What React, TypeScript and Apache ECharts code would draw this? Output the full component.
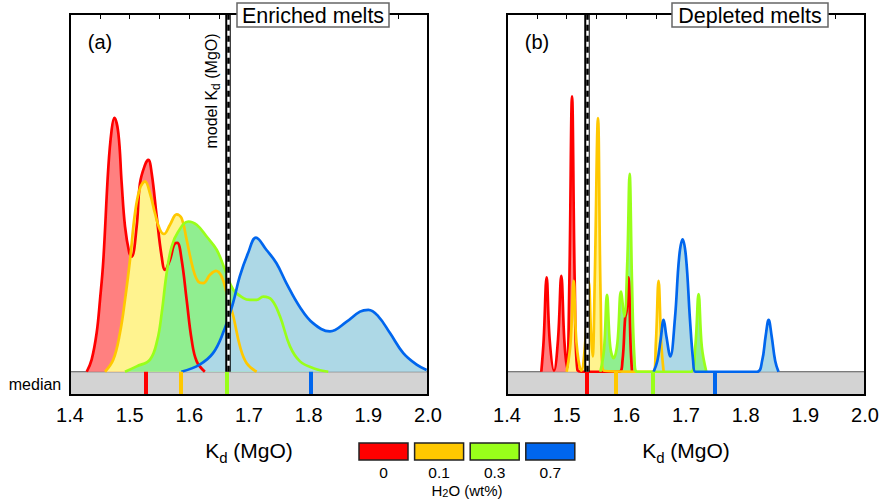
import React, { useEffect, useRef } from 'react';
import * as echarts from 'echarts';

const FONT = '"Liberation Sans", Arial, Helvetica, sans-serif';

// axis ranges
const X_MIN = 1.4;
const X_MAX = 2.0;
const X_STEP = 0.1;
const STRIP_BOTTOM = -6.5; // density units, the grey "median" strip lies below 0
const Y_MAX = 100;

// legend / categories
const waterContents = ['0', '0.1', '0.3', '0.7'];
const lineColors = ['#ff0000', '#ffc800', '#99ff1a', '#0066ee'];
const fillColors = ['#ff8080', '#fff38f', '#90ee90', '#add8e6'];

// Panel (a) enriched melts: density curves [Kd, density]
const enrichedRed: number[][] = [
  [1.428, 0], [1.4363, 3.4], [1.4447, 10.9], [1.4503, 20.1], [1.4558, 31], [1.4642, 57],
  [1.4698, 67.6], [1.4743, 71], [1.481, 66.7], [1.4866, 52.7], [1.4922, 40.6], [1.4994, 33.2],
  [1.5034, 32.2], [1.5117, 40.6], [1.5173, 52.7], [1.5257, 57.8], [1.5313, 59.2], [1.5369, 55.5],
  [1.5453, 43.4], [1.5536, 32.2], [1.5592, 28.5], [1.5676, 31.3], [1.576, 35.9], [1.5799, 36],
  [1.5871, 31.3], [1.5955, 20.1], [1.6039, 8.9], [1.6123, 2.9], [1.626, 0],
];
const enrichedOrange: number[][] = [
  [1.4587, 0], [1.4726, 3.4], [1.4838, 10.9], [1.4922, 20.1], [1.5006, 31.3], [1.5089, 44.3],
  [1.5173, 51.3], [1.5257, 53.2], [1.534, 49.9], [1.5424, 44.3], [1.5508, 39.7], [1.5575, 38.5],
  [1.5676, 41.1], [1.5788, 44], [1.5871, 42.9], [1.5955, 36.9], [1.6067, 28.5], [1.615, 25.2],
  [1.6234, 24.8], [1.6346, 27.1], [1.6447, 28.2], [1.6542, 26.6], [1.6626, 22], [1.6737, 15.5],
  [1.6849, 7.1], [1.6961, 2.4], [1.7128, 0],
];
const enrichedGreen: number[][] = [
  [1.4922, 0], [1.5117, 1.5], [1.5341, 3.4], [1.5464, 8.9], [1.5537, 16.4], [1.562, 27.6],
  [1.5704, 35], [1.5815, 39.2], [1.5983, 42], [1.6123, 41.1], [1.629, 37.8], [1.6458, 34.1],
  [1.6598, 28.5], [1.6737, 22.9], [1.6905, 20.6], [1.7017, 20.1], [1.7128, 20.1], [1.724, 21],
  [1.738, 20.1], [1.7519, 15.5], [1.7687, 7.1], [1.7855, 2.9], [1.8078, 1], [1.8329, 0],
];
const enrichedBlue: number[][] = [
  [1.5866, 0], [1.6173, 2], [1.6397, 5.2], [1.6564, 10.8], [1.6732, 19.2], [1.6844, 26.6],
  [1.6983, 33.1], [1.7117, 37.5], [1.729, 34.1], [1.7458, 30.4], [1.7626, 24.8], [1.7849, 18.2],
  [1.8073, 13.6], [1.8357, 11.3], [1.8637, 14], [1.886, 16.8], [1.9, 17.3], [1.9167, 15.5],
  [1.9363, 10.8], [1.9586, 5.2], [1.981, 2], [1.9977, 0.5],
];

// Panel (b) depleted melts
const depletedRed: number[][] = [
  [1.4575, 0], [1.4615, 9], [1.4664, 26.4], [1.4715, 9], [1.4788, 0.3], [1.4855, 9], [1.491, 26.8],
  [1.496, 9], [1.5005, 1], [1.5045, 25], [1.509, 77], [1.5135, 25], [1.518, 0.5], [1.53, 0],
  [1.588, 0], [1.5935, 3], [1.598, 15], [1.6005, 17], [1.6038, 26.4], [1.607, 8], [1.6095, 0],
];
const depletedOrange: number[][] = [
  [1.5, 0], [1.5065, 8], [1.5117, 25.4], [1.5165, 8], [1.5245, 0.3], [1.531, 8], [1.537, 25.2],
  [1.541, 10], [1.5435, 4.3], [1.547, 25], [1.5525, 70.9], [1.557, 20], [1.562, 0.3], [1.645, 0],
  [1.6495, 8], [1.654, 25.4], [1.6585, 8], [1.6625, 0],
];
const depletedGreen: number[][] = [
  [1.5564, 0], [1.5625, 6], [1.5676, 21.5], [1.573, 7], [1.5787, 3.8], [1.585, 8], [1.591, 22.4],
  [1.5966, 15.5], [1.6015, 30], [1.6055, 55.3], [1.6095, 25], [1.6135, 4], [1.618, 0], [1.708, 0],
  [1.7155, 7], [1.7211, 21.7], [1.7265, 7], [1.734, 0],
];
const depletedBlue: number[][] = [
  [1.6457, 0], [1.652, 3], [1.6575, 9], [1.6625, 14.5], [1.667, 10], [1.6737, 4.3], [1.6815, 15],
  [1.6885, 32], [1.6943, 37], [1.7, 32], [1.7065, 15], [1.712, 3], [1.7157, 0], [1.819, 0],
  [1.8275, 3], [1.8335, 10], [1.8385, 14.5], [1.8435, 10], [1.8495, 3], [1.855, 0],
];

const enrichedMedians = [1.527, 1.586, 1.663, 1.804];
const depletedMedians = [1.534, 1.583, 1.645, 1.749];
const modelKd = [1.665, 1.534];

const panelTitles = ['Enriched melts', 'Depleted melts'];
const panelLetters = ['(a)', '(b)'];

// layout
const GRID_TOP = 14;
const GRID_H = 381;
const GRID_W = 358;
const GRID_LEFTS = [70, 507];

function buildOption() {
  const panels = [
    { curves: [enrichedRed, enrichedOrange, enrichedGreen, enrichedBlue], medians: enrichedMedians, model: modelKd[0] },
    { curves: [depletedRed, depletedOrange, depletedGreen, depletedBlue], medians: depletedMedians, model: modelKd[1] },
  ];

  const grid = GRID_LEFTS.map((left) => ({
    left, top: GRID_TOP, width: GRID_W, height: GRID_H, show: false, containLabel: false,
  }));

  const xAxis: any[] = [];
  const yAxis: any[] = [];
  GRID_LEFTS.forEach((_, g) => {
    const common = {
      type: 'value', gridIndex: g, min: X_MIN, max: X_MAX, interval: X_STEP,
      axisLine: { show: false, onZero: false },
      axisTick: { show: true, inside: true, length: 5, lineStyle: { color: '#000', width: 1 } },
      minorTick: { show: true, splitNumber: 2, length: 5, lineStyle: { color: '#000', width: 1 } },
      splitLine: { show: false },
      minorSplitLine: { show: false },
    };
    xAxis.push({
      ...common, position: 'bottom',
      axisLabel: {
        show: true, fontSize: 20, color: '#000', fontFamily: FONT, margin: 10,
        formatter: (v: number) => v.toFixed(1),
      },
    });
    xAxis.push({ ...common, position: 'top', axisLabel: { show: false } });
    yAxis.push({ type: 'value', gridIndex: g, min: STRIP_BOTTOM, max: Y_MAX, show: false });
  });

  const series: any[] = [];
  panels.forEach((p, g) => {
    const xi = g * 2;
    const yi = g;
    // grey median strip
    series.push({
      type: 'line', xAxisIndex: xi, yAxisIndex: yi, data: [], z: 1, silent: true,
      markArea: {
        silent: true,
        itemStyle: { color: '#d3d3d3', borderColor: '#555', borderWidth: 1 },
        data: [[{ coord: [X_MIN, STRIP_BOTTOM] }, { coord: [X_MAX, 0] }]],
      },
    });
    // fills
    p.curves.forEach((c, i) => {
      series.push({
        type: 'line', xAxisIndex: xi, yAxisIndex: yi, data: c, smooth: 0.4,
        showSymbol: false, symbol: 'none', silent: true, z: 2,
        lineStyle: { width: 0, opacity: 0 },
        areaStyle: { color: fillColors[i], opacity: 1 },
      });
    });
    // lines
    p.curves.forEach((c, i) => {
      series.push({
        type: 'line', xAxisIndex: xi, yAxisIndex: yi, data: c, smooth: 0.4,
        showSymbol: false, symbol: 'none', silent: true, z: 3,
        lineStyle: { width: 2.7, color: lineColors[i] },
      });
    });
    // medians and model Kd line
    const mlData: any[] = p.medians.map((m, i) => [
      { coord: [m, STRIP_BOTTOM], lineStyle: { color: lineColors[i], width: 4, type: 'solid' } },
      { coord: [m, 0] },
    ]);
    mlData.push([{ coord: [p.model, 0], lineStyle: { color: '#000', width: 5.5, type: 'solid' } }, { coord: [p.model, Y_MAX] }]);
    mlData.push([{ coord: [p.model, 0], lineStyle: { color: '#fff', width: 2.5, type: 'solid' } }, { coord: [p.model, Y_MAX] }]);
    mlData.push([{ coord: [p.model, 0], lineStyle: { color: '#000', width: 2.5, type: [6, 5] } }, { coord: [p.model, Y_MAX] }]);
    series.push({
      type: 'line', xAxisIndex: xi, yAxisIndex: yi, data: [], z: 10, silent: true,
      markLine: { silent: true, symbol: ['none', 'none'], label: { show: false }, data: mlData },
    });
  });

  const subRich = (main: number, sub: number, pad: number) => ({
    m: { fontSize: main, fontFamily: FONT, fill: '#000', color: '#000' },
    s: { fontSize: sub, fontFamily: FONT, fill: '#000', color: '#000', padding: [pad, 0, 0, 0] },
  });

  const elements: any[] = [];
  GRID_LEFTS.forEach((left, g) => {
    elements.push({
      type: 'rect', z: 50, silent: true,
      shape: { x: left, y: GRID_TOP, width: GRID_W, height: GRID_H },
      style: { fill: 'none', stroke: '#000', lineWidth: 2 },
    });
    elements.push({
      type: 'text', z: 60, x: left + 30, y: 42,
      style: { text: panelLetters[g], fontSize: 20, fontFamily: FONT, fill: '#000', align: 'center', verticalAlign: 'middle' },
    });
    elements.push({
      type: 'text', z: 60, x: left + 179, y: 450,
      style: {
        text: '{m|K}{s|d}{m| (MgO)}', rich: subRich(21, 15, 14),
        align: 'center', verticalAlign: 'middle', fill: '#000',
      },
    });
  });
  const titleBoxes = [
    { x: 237, w: 152 },
    { x: 672, w: 156 },
  ];
  titleBoxes.forEach((b, g) => {
    elements.push({
      type: 'rect', z: 70, silent: true,
      shape: { x: b.x, y: 3, width: b.w, height: 24 },
      style: { fill: '#fff', stroke: '#666', lineWidth: 1.5 },
    });
    elements.push({
      type: 'text', z: 71, x: b.x + b.w / 2, y: 15.5,
      style: { text: panelTitles[g], fontSize: 21.5, fontFamily: FONT, fill: '#000', align: 'center', verticalAlign: 'middle' },
    });
  });
  // model Kd label
  elements.push({
    type: 'text', z: 60, x: 211, y: 91, rotation: Math.PI / 2,
    style: {
      text: '{m|model K}{s|d}{m| (MgO)}', rich: subRich(16, 12, 10),
      align: 'center', verticalAlign: 'middle', fill: '#000',
    },
  });
  // median label
  elements.push({
    type: 'text', z: 60, x: 35, y: 384,
    style: { text: 'median', fontSize: 16, fontFamily: FONT, fill: '#000', align: 'center', verticalAlign: 'middle' },
  });
  // legend
  const LEG_X0 = 359;
  const LEG_STEP = 55.6;
  waterContents.forEach((w, i) => {
    const x = LEG_X0 + i * LEG_STEP;
    elements.push({
      type: 'rect', z: 60, silent: true,
      shape: { x, y: 443, width: 49, height: 17 },
      style: { fill: lineColors[i], stroke: '#222', lineWidth: 1.5 },
    });
    elements.push({
      type: 'text', z: 60, x: x + 24.5, y: 472,
      style: { text: w, fontSize: 15.5, fontFamily: FONT, fill: '#000', align: 'center', verticalAlign: 'middle' },
    });
  });
  elements.push({
    type: 'text', z: 60, x: 467, y: 490,
    style: {
      text: '{m|H}{s|2}{m|O (wt%)}', rich: subRich(15, 11, 6),
      align: 'center', verticalAlign: 'middle', fill: '#000',
    },
  });

  return {
    animation: false,
    backgroundColor: '#fff',
    textStyle: { fontFamily: FONT },
    grid, xAxis, yAxis, series,
    graphic: { elements },
  };
}

export default function App() {
  const ref = useRef<HTMLDivElement>(null);
  useEffect(() => {
    if (!ref.current) return;
    const chart = echarts.init(ref.current, undefined, { renderer: 'svg' });
    chart.setOption(buildOption() as any);
    return () => chart.dispose();
  }, []);
  return <div ref={ref} style={{ position: 'fixed', left: 0, top: 0, width: 882, height: 503 }} />;
}
